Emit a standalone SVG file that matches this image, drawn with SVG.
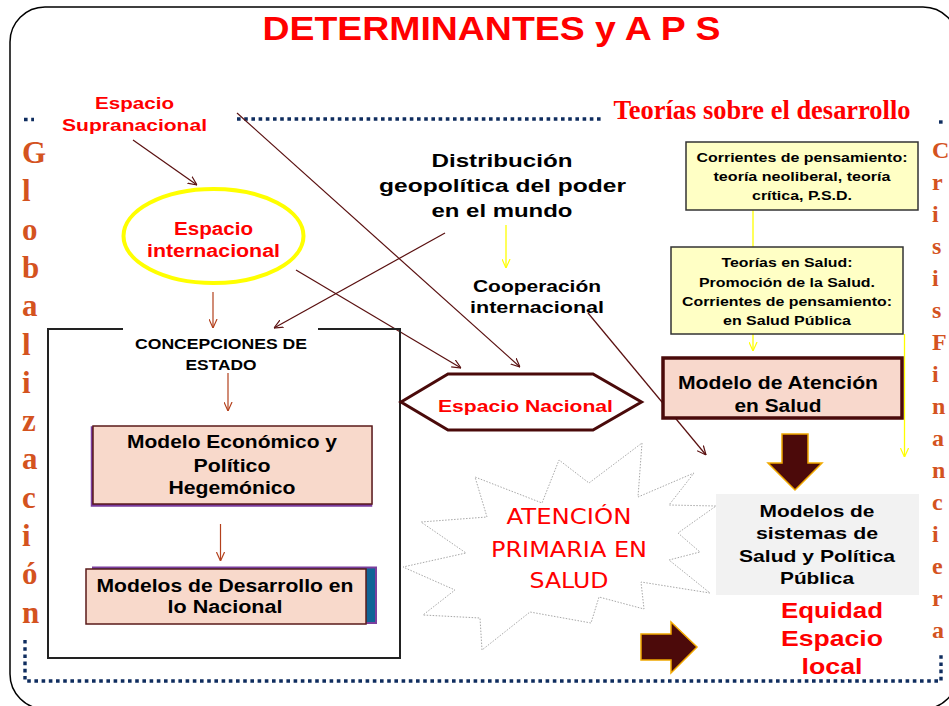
<svg xmlns="http://www.w3.org/2000/svg" width="949" height="706" viewBox="0 0 949 706">
<defs>
<style>
.b{font-family:"Liberation Sans",Arial,sans-serif;font-weight:bold;text-anchor:middle}
.red{fill:#ff0000}
.blk{fill:#000}
.ser{font-family:"Liberation Serif","Times New Roman",serif;font-weight:bold;fill:#d4531f}
.dot{fill:none;stroke:#0f2d5f;stroke-width:3.4;stroke-dasharray:3.6 3.6}
.cm{fill:none;stroke:#5a1010;stroke-width:1.2;marker-end:url(#am)}
.cr{fill:none;stroke:#b3401c;stroke-width:1.2;marker-end:url(#ar)}
.cy{fill:none;stroke:#ffff00;stroke-width:1.3}
.cya{fill:none;stroke:#ffff00;stroke-width:1.3;marker-end:url(#ay)}
.peach{fill:#f8d9cb;stroke:#5a1a1a;stroke-width:1.5}
.ybox{fill:#ffffc5;stroke:#333;stroke-width:1.5}
.blockarrow{fill:#4c0a0a;stroke:#f0a800;stroke-width:1.5}
</style>
<marker id="am" viewBox="0 0 10 10" refX="10" refY="5" markerWidth="9" markerHeight="9" markerUnits="userSpaceOnUse" orient="auto"><path d="M0,0.5 L10,5 L0,9.5" fill="none" stroke="#5a1010" stroke-width="1.3"/></marker>
<marker id="ar" viewBox="0 0 10 10" refX="10" refY="5" markerWidth="9" markerHeight="9" markerUnits="userSpaceOnUse" orient="auto"><path d="M0,0.5 L10,5 L0,9.5" fill="none" stroke="#b3401c" stroke-width="1.3"/></marker>
<marker id="ay" viewBox="0 0 10 10" refX="10" refY="5" markerWidth="9" markerHeight="9" markerUnits="userSpaceOnUse" orient="auto"><path d="M0,0.5 L10,5 L0,9.5" fill="none" stroke="#ffff00" stroke-width="1.3"/></marker>
</defs>
<rect x="0" y="0" width="949" height="706" fill="#fff"/>
<rect id="frame" x="10" y="7" width="948" height="702" rx="35" ry="35" fill="#fff" stroke="#000" stroke-width="1.5"/>

<g id="dotted-frame">
<path class="dot" d="M237,119 H603"/>
<path class="dot" d="M24,119.5 H34"/>
<path class="dot" d="M939,122 H943"/>
<path class="dot" d="M25,640 V681 H941 V655"/>
</g>

<text id="title" class="b red" x="491.5" y="40" font-size="34" textLength="458" lengthAdjust="spacingAndGlyphs">DETERMINANTES y A P S</text>

<g id="teorias-desarrollo">
<text class="red" x="762" y="119" font-family="Liberation Serif, Times New Roman, serif" font-weight="bold" font-size="28" text-anchor="middle" textLength="297" lengthAdjust="spacingAndGlyphs">Teorías sobre el desarrollo</text>
</g>

<g id="globalizacion" class="ser" font-size="31">
<text x="22" y="163">G</text>
<text x="22" y="201">l</text>
<text x="22" y="240">o</text>
<text x="22" y="278">b</text>
<text x="22" y="316">a</text>
<text x="22" y="355">l</text>
<text x="22" y="393">i</text>
<text x="22" y="431">z</text>
<text x="22" y="469">a</text>
<text x="22" y="508">c</text>
<text x="22" y="546">i</text>
<text x="22" y="584">ó</text>
<text x="22" y="623">n</text>
</g>

<g id="crisis-financiera" class="ser" font-size="24">
<text x="932" y="158">C</text>
<text x="932" y="190">r</text>
<text x="932" y="222">i</text>
<text x="932" y="254">s</text>
<text x="932" y="286">i</text>
<text x="932" y="318">s</text>
<text x="932" y="350">F</text>
<text x="932" y="382">i</text>
<text x="932" y="414">n</text>
<text x="932" y="446">a</text>
<text x="932" y="478">n</text>
<text x="932" y="510">c</text>
<text x="932" y="542">i</text>
<text x="932" y="574">e</text>
<text x="932" y="606">r</text>
<text x="932" y="638">a</text>
</g>

<g id="connectors">
<path id="c-supra-inter" class="cm" d="M133,140 L197,185"/>
<path id="c-supra-nac" class="cm" d="M237,113 L520,367"/>
<path id="c-dist-conc" class="cm" d="M445,233 L274,328"/>
<path id="c-inter-nac" class="cm" d="M296,270 L461,368"/>
<path id="c-coop-sist" class="cm" d="M588,313 L706,455"/>
<path id="c-inter-conc" class="cr" d="M213,292 L213,328"/>
<path id="c-conc-modelo" class="cr" d="M228,373 L228,411"/>
<path id="c-modelo-desarrollo" class="cr" d="M220.5,524 L220.5,561"/>
<path id="c-dist-coop" class="cya" d="M506,225 L506,268"/>
<path id="c-corr-teor" class="cy" d="M753,210 L753,247"/>
<path id="c-teor-aten" class="cya" d="M753,334 L753,351"/>
<path id="c-teor-right" class="cya" d="M904.5,334 L904.5,457"/>
</g>

<g id="supranacional">
<text class="b red" x="134.5" y="109" font-size="17" textLength="79" lengthAdjust="spacingAndGlyphs">Espacio</text>
<text class="b red" x="134.5" y="131" font-size="17" textLength="145" lengthAdjust="spacingAndGlyphs">Supranacional</text>
</g>

<g id="internacional">
<ellipse cx="213.5" cy="236" rx="90" ry="47" fill="#fff" stroke="#ffff00" stroke-width="4"/>
<text class="b red" x="213.5" y="235" font-size="18" textLength="79" lengthAdjust="spacingAndGlyphs">Espacio</text>
<text class="b red" x="213.5" y="257" font-size="18" textLength="133" lengthAdjust="spacingAndGlyphs">internacional</text>
</g>

<g id="distribucion">
<text class="b blk" x="502" y="167" font-size="18" textLength="141" lengthAdjust="spacingAndGlyphs">Distribución</text>
<text class="b blk" x="502.5" y="192" font-size="18" textLength="247" lengthAdjust="spacingAndGlyphs">geopolítica del poder</text>
<text class="b blk" x="502" y="217" font-size="18" textLength="141" lengthAdjust="spacingAndGlyphs">en el mundo</text>
</g>

<g id="cooperacion">
<text class="b blk" x="537" y="292" font-size="16" textLength="128" lengthAdjust="spacingAndGlyphs">Cooperación</text>
<text class="b blk" x="537" y="313" font-size="16" textLength="134" lengthAdjust="spacingAndGlyphs">internacional</text>
</g>

<g id="concepciones">
<path d="M123,329 H48 V658 H400 V329 H318" fill="none" stroke="#222" stroke-width="2"/>
<text class="b blk" x="221" y="349" font-size="15" textLength="172" lengthAdjust="spacingAndGlyphs">CONCEPCIONES DE</text>
<text class="b blk" x="221" y="370" font-size="15" textLength="71" lengthAdjust="spacingAndGlyphs">ESTADO</text>
</g>

<g id="modelo-economico">
<rect x="91.5" y="427" width="280" height="79" fill="#7030a0" stroke="#7b3f9e" stroke-width="1.5"/>
<rect class="peach" x="93" y="426" width="279" height="78"/>
<text class="b blk" x="232" y="448" font-size="18" textLength="210" lengthAdjust="spacingAndGlyphs">Modelo Económico y</text>
<text class="b blk" x="232" y="472" font-size="18" textLength="77" lengthAdjust="spacingAndGlyphs">Político</text>
<text class="b blk" x="232" y="494" font-size="18" textLength="127" lengthAdjust="spacingAndGlyphs">Hegemónico</text>
</g>

<g id="modelos-desarrollo">
<rect x="93" y="567.5" width="283" height="55.5" fill="#0f6496" stroke="#7b3f9e" stroke-width="2"/>
<rect class="peach" x="86" y="569" width="280" height="55"/>
<text class="b blk" x="225" y="592" font-size="18" textLength="257" lengthAdjust="spacingAndGlyphs">Modelos de Desarrollo en</text>
<text class="b blk" x="225" y="613" font-size="18" textLength="115" lengthAdjust="spacingAndGlyphs">lo Nacional</text>
</g>

<g id="espacio-nacional">
<polygon points="401,402 448,374 593,374 641.5,402 593,430 448,430" fill="#fff" stroke="#4a0a0a" stroke-width="3"/>
<text class="b red" x="525.5" y="412" font-size="17" textLength="175" lengthAdjust="spacingAndGlyphs">Espacio Nacional</text>
</g>

<g id="aps">
<polygon points="642,443 638,497 694,473 669,505 716,506 678,533 700,552 669,560 710,593 641,582 644,609 599,597 591,623 530,612 482,650 480,618 423,615 455,590 403,567 466,553 421,522 487,517 475,477 542,503 559,460 589,483" fill="#fff" stroke="#a8a8a8" stroke-width="1" stroke-dasharray="1.5 1.5"/>
<text class="red" x="569" y="524" font-family="DejaVu Sans, Liberation Sans, sans-serif" font-size="22" text-anchor="middle" textLength="125" lengthAdjust="spacingAndGlyphs">ATENCIÓN</text>
<text class="red" x="569" y="557" font-family="DejaVu Sans, Liberation Sans, sans-serif" font-size="22" text-anchor="middle" textLength="156" lengthAdjust="spacingAndGlyphs">PRIMARIA EN</text>
<text class="red" x="569" y="588" font-family="DejaVu Sans, Liberation Sans, sans-serif" font-size="22" text-anchor="middle" textLength="79" lengthAdjust="spacingAndGlyphs">SALUD</text>
</g>

<g id="corrientes">
<rect class="ybox" x="686" y="142" width="232" height="68"/>
<text class="b blk" x="802" y="162" font-size="13.5" textLength="211" lengthAdjust="spacingAndGlyphs">Corrientes de pensamiento:</text>
<text class="b blk" x="802" y="181" font-size="13.5" textLength="177" lengthAdjust="spacingAndGlyphs">teoría neoliberal, teoría</text>
<text class="b blk" x="802" y="200" font-size="13.5" textLength="100" lengthAdjust="spacingAndGlyphs">crítica, P.S.D.</text>
</g>

<g id="teorias-salud">
<rect class="ybox" x="671" y="247" width="232" height="87"/>
<text class="b blk" x="787" y="267" font-size="13.5" textLength="131" lengthAdjust="spacingAndGlyphs">Teorías en Salud:</text>
<text class="b blk" x="787" y="287" font-size="13.5" textLength="176" lengthAdjust="spacingAndGlyphs">Promoción de la Salud.</text>
<text class="b blk" x="787" y="306" font-size="13.5" textLength="210" lengthAdjust="spacingAndGlyphs">Corrientes de pensamiento:</text>
<text class="b blk" x="787" y="325" font-size="13.5" textLength="128" lengthAdjust="spacingAndGlyphs">en Salud Pública</text>
</g>

<g id="modelo-atencion">
<rect x="663" y="358" width="239" height="60" fill="#f8d8cc" stroke="#4a0a0a" stroke-width="3.5"/>
<text class="b blk" x="778" y="389" font-size="17.5" textLength="200" lengthAdjust="spacingAndGlyphs">Modelo de Atención</text>
<text class="b blk" x="778" y="412" font-size="17.5" textLength="87" lengthAdjust="spacingAndGlyphs">en Salud</text>
</g>

<polygon id="arrow-down" class="blockarrow" points="782,434 808,434 808,463 822,463 795,490 768,463 782,463"/>

<g id="modelos-sistemas">
<rect x="716" y="494" width="203" height="101" fill="#f2f2f2"/>
<text class="b blk" x="817" y="517" font-size="17" textLength="115" lengthAdjust="spacingAndGlyphs">Modelos de</text>
<text class="b blk" x="817" y="539" font-size="17" textLength="122" lengthAdjust="spacingAndGlyphs">sistemas de</text>
<text class="b blk" x="817" y="562" font-size="17" textLength="156" lengthAdjust="spacingAndGlyphs">Salud y Política</text>
<text class="b blk" x="817" y="584" font-size="17" textLength="74" lengthAdjust="spacingAndGlyphs">Pública</text>
</g>

<polygon id="arrow-right" class="blockarrow" points="641,634 671,634 671,622 697,647 671,673 671,660 641,660"/>

<g id="equidad">
<text class="b red" x="832" y="618" font-size="22" textLength="102" lengthAdjust="spacingAndGlyphs">Equidad</text>
<text class="b red" x="832" y="646" font-size="22" textLength="102" lengthAdjust="spacingAndGlyphs">Espacio</text>
<text class="b red" x="832" y="674" font-size="22" textLength="61" lengthAdjust="spacingAndGlyphs">local</text>
</g>
</svg>
